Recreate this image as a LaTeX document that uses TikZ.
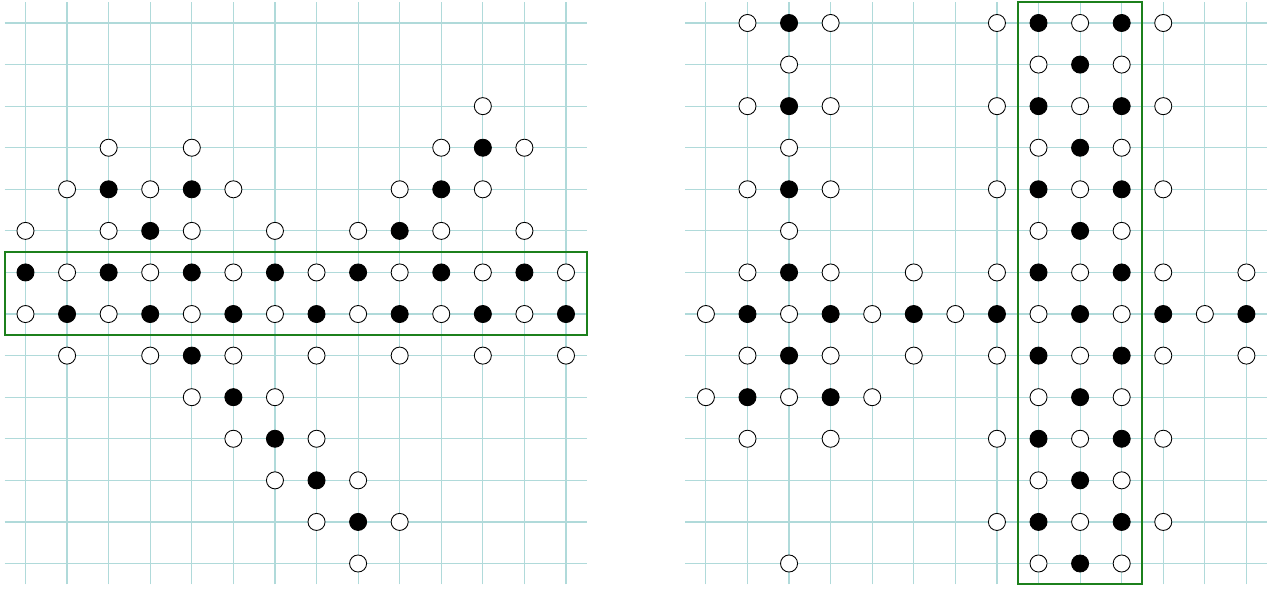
\documentclass[tikz,border=0pt]{standalone}
\definecolor{gridc}{RGB}{176,218,218}
\definecolor{boxg}{RGB}{28,128,28}
\tikzset{
  gridline/.style={draw=gridc, line width=0.8pt},
  wst/.style={circle, draw=black, fill=white, line width=0.6pt, minimum size=0.41cm, inner sep=0pt},
  bst/.style={wst, fill=black},
  band/.style={draw=boxg, line width=1.4pt},
}
\begin{document}
\begin{tikzpicture}
\useasboundingbox (-0.613,-0.612) rectangle (30.077,13.553);
\def\R{16.365}
% grids
\foreach \i in {0,...,13} {
  \draw[gridline] (\i,-0.5) -- (\i,13.5);
  \draw[gridline] (-0.5,\i) -- (13.5,\i);
  \draw[gridline] ({\R+\i},-0.5) -- ({\R+\i},13.5);
  \draw[gridline] ({\R-0.5},\i) -- ({\R+13.5},\i);
}
% bands
\draw[band] (-0.5,5.5) rectangle (13.5,7.5);
\draw[band] ({\R+7.5},-0.5) rectangle ({\R+10.5},13.5);
% left stones
\foreach \c/\r in {11/2, 2/3,4/3,10/3,12/3, 1/4,3/4,5/4,9/4,11/4,
  0/5,2/5,4/5,6/5,8/5,10/5,12/5,
  1/6,3/6,5/6,7/6,9/6,11/6,13/6,
  0/7,2/7,4/7,6/7,8/7,10/7,12/7,
  1/8,3/8,5/8,7/8,9/8,11/8,13/8,
  4/9,6/9, 5/10,7/10, 6/11,8/11, 7/12,9/12, 8/13}
  \node[wst] (l-\c-\r) at (\c,{13-\r}) {};
\foreach \c/\r in {11/3, 2/4,4/4,10/4, 3/5,9/5,
  0/6,2/6,4/6,6/6,8/6,10/6,12/6,
  1/7,3/7,5/7,7/7,9/7,11/7,13/7,
  4/8, 5/9, 6/10, 7/11, 8/12}
  \node[bst] (l-\c-\r) at (\c,{13-\r}) {};
% right stones
\foreach \c/\r in {1/0,3/0,7/0,9/0,11/0, 2/1,8/1,10/1,
  1/2,3/2,7/2,9/2,11/2, 2/3,8/3,10/3,
  1/4,3/4,7/4,9/4,11/4, 2/5,8/5,10/5,
  1/6,3/6,5/6,7/6,9/6,11/6,13/6,
  0/7,2/7,4/7,6/7,8/7,10/7,12/7,
  1/8,3/8,5/8,7/8,9/8,11/8,13/8,
  0/9,2/9,4/9,8/9,10/9,
  1/10,3/10,7/10,9/10,11/10,
  8/11,10/11, 7/12,9/12,11/12, 2/13,8/13,10/13}
  \node[wst] (r-\c-\r) at ({\R+\c},{13-\r}) {};
\foreach \c/\r in {2/0,8/0,10/0, 9/1, 2/2,8/2,10/2, 9/3,
  2/4,8/4,10/4, 9/5, 2/6,8/6,10/6,
  1/7,3/7,5/7,7/7,9/7,11/7,13/7,
  2/8,8/8,10/8, 1/9,3/9,9/9, 8/10,10/10, 9/11, 8/12,10/12, 9/13}
  \node[bst] (r-\c-\r) at ({\R+\c},{13-\r}) {};
\end{tikzpicture}
\end{document}
